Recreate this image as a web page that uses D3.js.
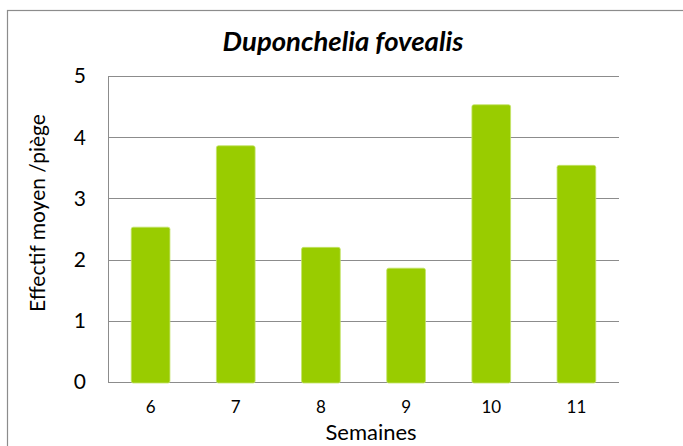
<!DOCTYPE html>
<html>
<head>
<meta charset="utf-8">
<script src="https://cdn.jsdelivr.net/npm/d3@7"></script>
<style>
  body { margin: 0; background: #fff; }
  text { font-family: Lato, "Open Sans", sans-serif; fill: #000; }
</style>
</head>
<body>
<div id="chart"></div>
<script>
var svgWidth = 683;
var svgHeight = 446;

var semaines = ["6", "7", "8", "9", "10", "11"];
var effectifs = [2.53, 3.86, 2.2, 1.86, 4.53, 3.54];
var yTicks = [0, 1, 2, 3, 4, 5];

var margin = { top: 76, right: 64, bottom: 64, left: 108 };
var width = svgWidth - margin.left - margin.right;
var height = svgHeight - margin.top - margin.bottom;

var svg = d3.select("#chart")
  .append("svg")
  .attr("width", svgWidth)
  .attr("height", svgHeight);

// outer chart frame (runs off the right/bottom edges)
svg.append("rect")
  .attr("x", 7.5)
  .attr("y", 10.5)
  .attr("width", 700)
  .attr("height", 460)
  .attr("fill", "#fff")
  .attr("stroke", "#8c8c8c")
  .attr("stroke-width", 1.2);

var chartGroup = svg.append("g")
  .attr("transform", `translate(${margin.left}, ${margin.top})`);

var xScale = d3.scaleBand()
  .domain(semaines)
  .range([0, width])
  .padding(0);

var yScale = d3.scaleLinear()
  .domain([0, 5])
  .range([height, 0]);

// gridlines
chartGroup.append("g")
  .selectAll("line")
  .data(yTicks)
  .enter()
  .append("line")
  .attr("x1", 0)
  .attr("x2", width)
  .attr("y1", d => Math.round(yScale(d)) + 0.5)
  .attr("y2", d => Math.round(yScale(d)) + 0.5)
  .attr("stroke", "#8c8c8c")
  .attr("stroke-width", 1);

// left axis line
chartGroup.append("line")
  .attr("x1", 0.5).attr("x2", 0.5)
  .attr("y1", 0).attr("y2", height)
  .attr("stroke", "#8c8c8c");

// bars: gap width 120% like the spreadsheet default
var barWidth = xScale.bandwidth() / 2.2;

chartGroup.selectAll(".bar")
  .data(semaines)
  .enter()
  .append("rect")
  .attr("class", "bar")
  .attr("x", d => xScale(d) + (xScale.bandwidth() - barWidth) / 2)
  .attr("y", (d, i) => yScale(effectifs[i]))
  .attr("width", barWidth)
  .attr("height", (d, i) => height - yScale(effectifs[i]) + 1)
  .attr("rx", 2)
  .attr("fill", "#99cc00")
  .attr("stroke", "#c4e36a")
  .attr("stroke-width", 0.8);

// y tick labels
chartGroup.append("g")
  .selectAll("text")
  .data(yTicks)
  .enter()
  .append("text")
  .attr("x", -22)
  .attr("y", d => yScale(d))
  .attr("dy", "0.35em")
  .attr("text-anchor", "end")
  .style("font-size", "21px")
  .text(d => d);

// x tick labels
chartGroup.append("g")
  .selectAll("text")
  .data(semaines)
  .enter()
  .append("text")
  .attr("x", d => xScale(d) + xScale.bandwidth() / 2)
  .attr("y", height + 31)
  .attr("text-anchor", "middle")
  .style("font-size", "17px")
  .text(d => d);

// axis titles
svg.append("text")
  .attr("x", 371)
  .attr("y", 440)
  .attr("text-anchor", "middle")
  .style("font-size", "22px")
  .text("Semaines");

svg.append("text")
  .attr("transform", "rotate(-90)")
  .attr("x", -213)
  .attr("y", 45)
  .attr("text-anchor", "middle")
  .style("font-size", "21px")
  .text("Effectif moyen /piège");

// title
svg.append("text")
  .attr("x", 343)
  .attr("y", 51)
  .attr("text-anchor", "middle")
  .style("font-size", "27.5px")
  .style("font-style", "italic")
  .style("font-weight", "bold")
  .text("Duponchelia fovealis");
</script>
</body>
</html>
